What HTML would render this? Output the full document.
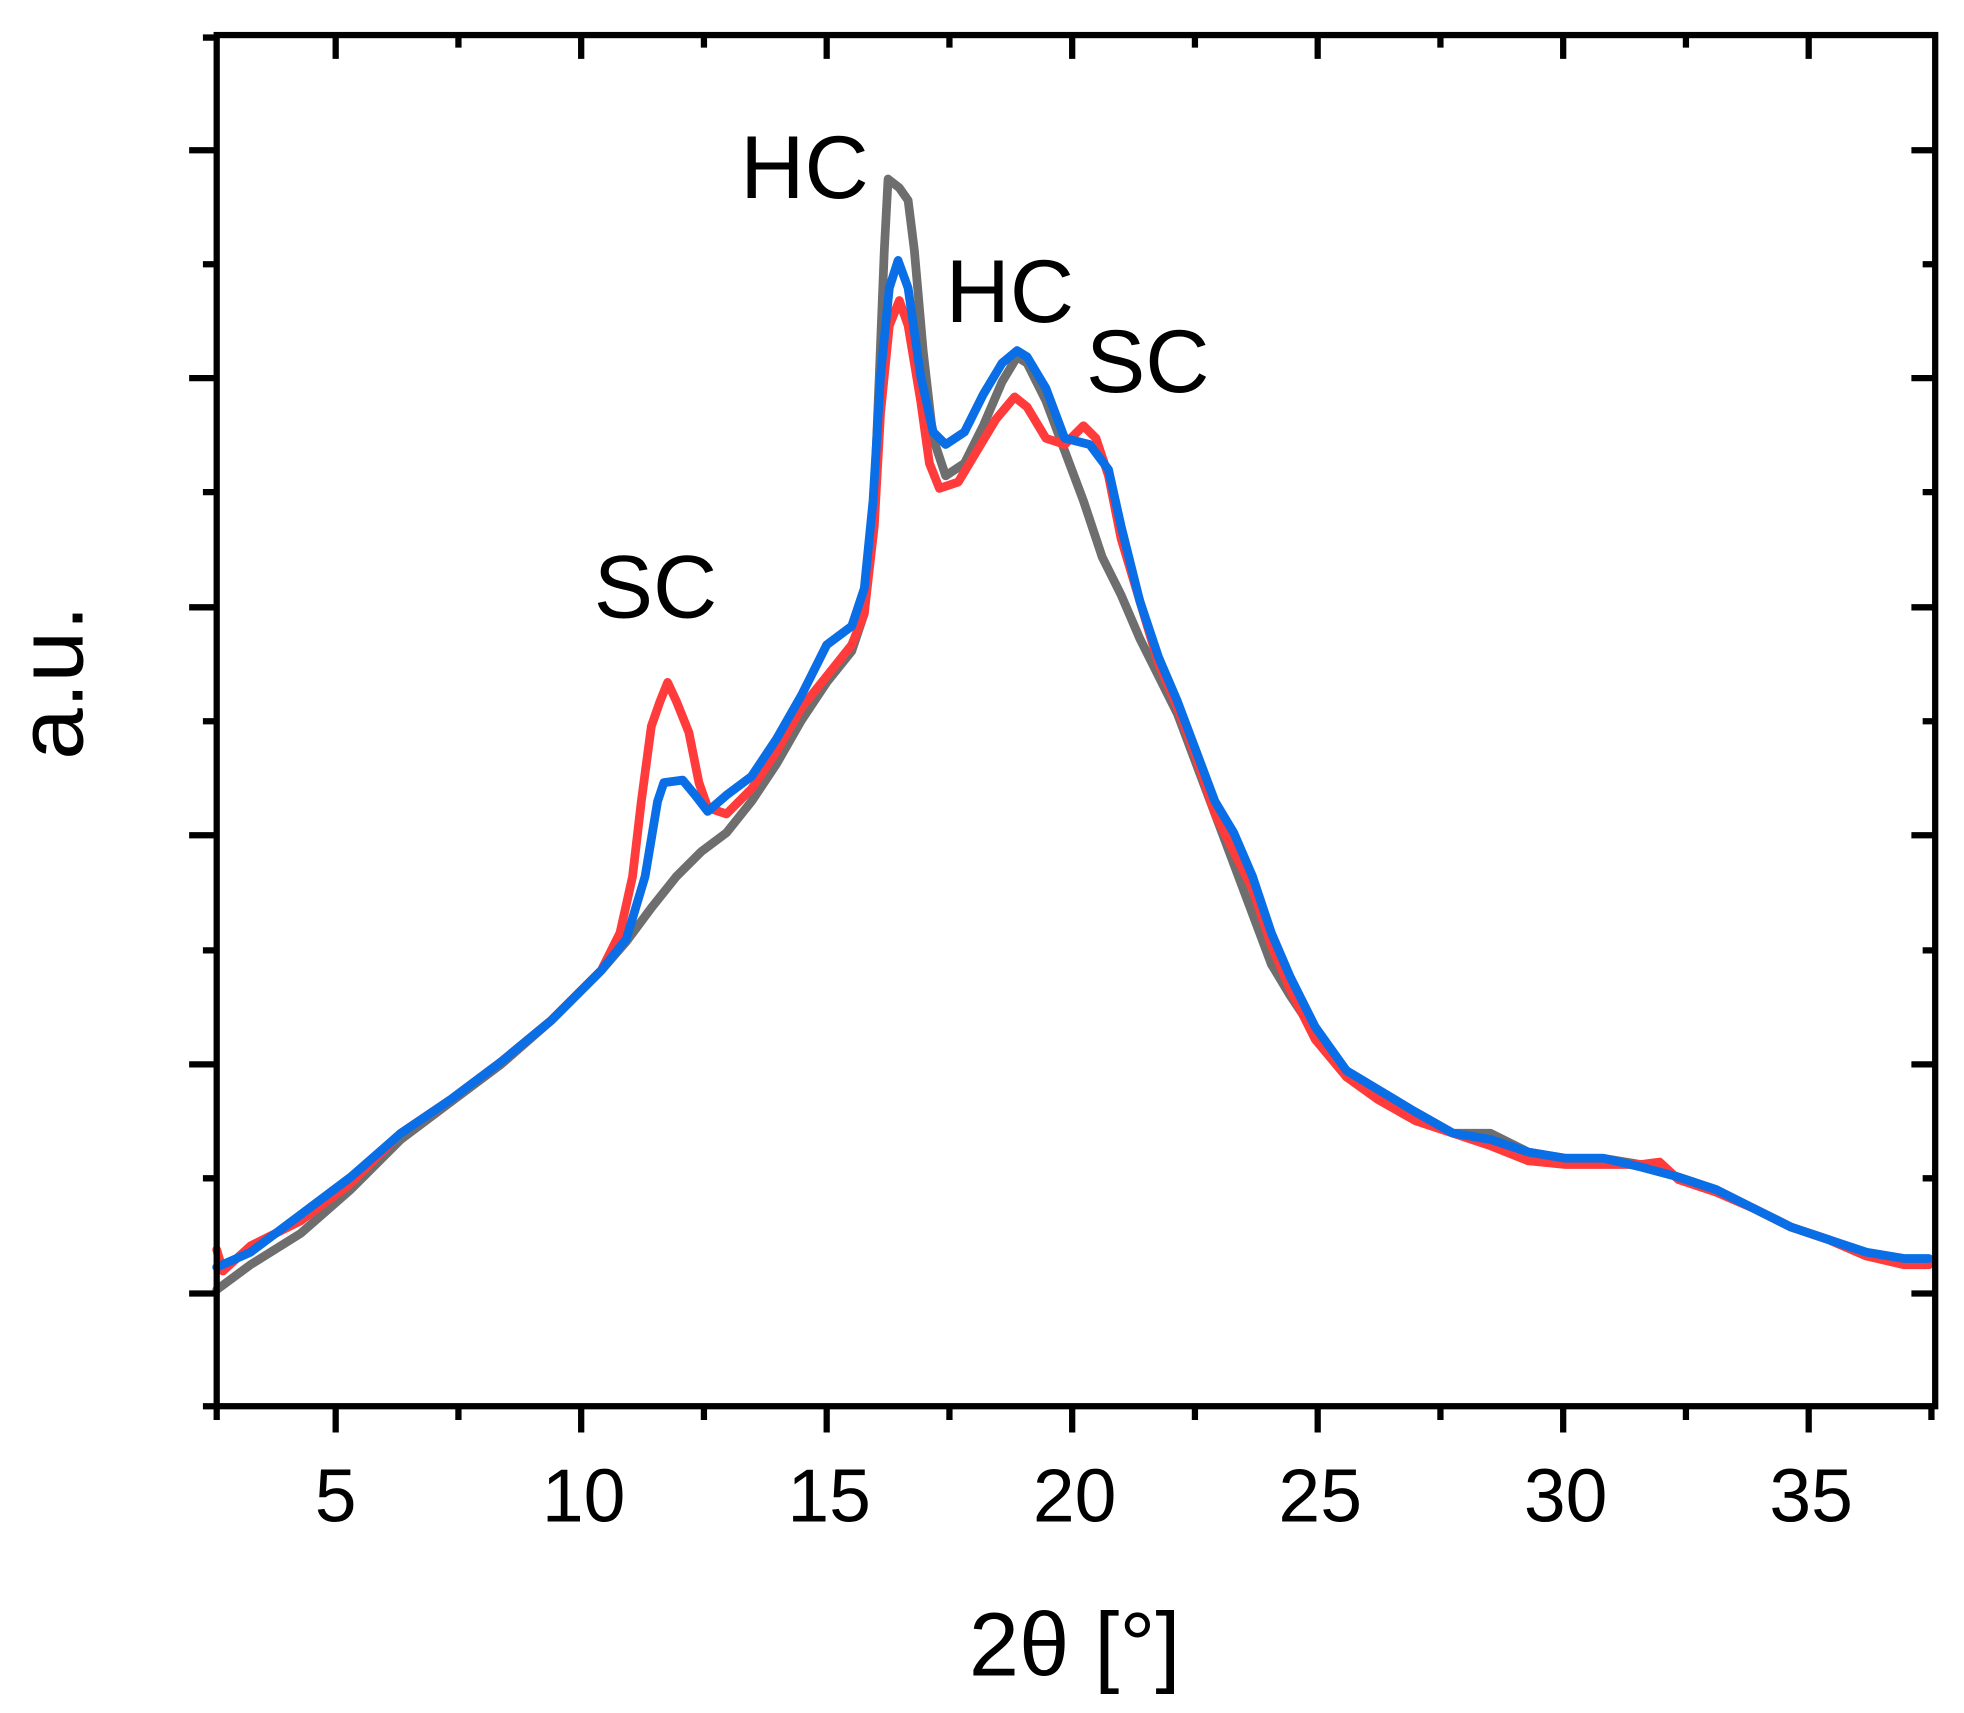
<!DOCTYPE html>
<html><head><meta charset="utf-8"><style>html,body{margin:0;padding:0;background:#fff}svg{display:block}</style></head>
<body>
<svg width="1964" height="1713" viewBox="0 0 1568 1368" preserveAspectRatio="none" xmlns="http://www.w3.org/2000/svg" font-family="Liberation Sans, Arial, sans-serif">
<rect width="1568" height="1368" fill="#fff"/>
<g fill="none" stroke-linejoin="round" stroke-linecap="round" stroke-width="7">
<polyline stroke="#6e6e6e" points="173,1030 200,1010 240,985 280,950 320,910 360,880 400,850 440,815 480,775 500,752 520,725 540,700 560,680 580,665 600,640 620,610 640,575 660,545 680,520 690,490 697,420 702,300 706,200 709,143 718,150 725,160 730,200 737,280 745,350 755,380 770,370 785,340 800,305 812,285 820,290 835,320 850,360 865,400 880,445 895,475 910,510 925,540 940,570 955,610 970,650 985,690 1000,730 1015,770 1030,795 1050,825 1075,860 1100,875 1130,888 1160,905 1190,905 1220,920 1250,925 1280,925 1310,930 1340,940 1370,950 1400,965 1430,980 1460,990 1490,1003 1520,1007 1540,1008"/>
<polyline stroke="#ff3b3b" points="173,998 178,1015 200,995 240,975 280,945 320,905 360,878 400,848 440,815 480,775 495,745 505,700 512,640 520,580 527,560 533,545 540,560 550,585 558,625 565,645 580,650 600,630 620,600 640,565 660,540 680,515 690,490 698,420 703,330 710,260 718,240 725,260 735,320 742,370 750,390 765,385 780,360 795,335 810,317 820,325 835,350 850,355 865,340 875,350 885,380 895,430 910,480 925,530 940,565 955,605 970,650 985,680 1000,710 1015,755 1030,790 1050,830 1075,860 1100,878 1130,895 1160,905 1190,915 1220,927 1250,930 1280,930 1310,930 1325,928 1340,942 1370,952 1400,965 1430,980 1460,990 1490,1003 1520,1010 1540,1010"/>
<polyline stroke="#0a6ee6" points="173,1012 200,1000 240,970 280,940 320,905 360,878 400,848 440,815 480,775 500,750 515,700 525,640 530,625 545,623 555,635 565,648 580,635 600,620 620,590 640,555 660,515 680,500 690,470 697,400 703,300 710,230 717,208 725,230 735,300 745,345 755,355 770,345 785,315 800,290 812,280 820,285 835,310 850,350 870,355 885,375 895,420 910,480 925,525 940,560 955,600 970,640 985,665 1000,700 1015,745 1030,780 1050,820 1075,855 1100,870 1130,888 1160,905 1190,910 1220,920 1250,925 1280,925 1310,932 1340,940 1370,950 1400,965 1430,980 1460,990 1490,1000 1520,1005 1540,1005"/>
</g>
<g stroke="#000" stroke-width="5" fill="none">
<rect x="173" y="28" width="1372" height="1095"/>
<path d="M151,120H173M151,302H173M151,485H173M151,667H173M151,850H173M151,1033H173
M162,211H173M162,393H173M162,576H173M162,759H173M162,941H173M162,30H173M162,1123H173
M1526,120H1545M1526,302H1545M1526,485H1545M1526,667H1545M1526,850H1545M1526,1033H1545
M1535,211H1545M1535,393H1545M1535,576H1545M1535,759H1545M1535,941H1545"/>
<path d="M268,1123V1144M464,1123V1144M660,1123V1144M856,1123V1144M1052,1123V1144M1248,1123V1144M1444,1123V1144
M173,1123V1134M366,1123V1134M562,1123V1134M758,1123V1134M954,1123V1134M1150,1123V1134M1346,1123V1134M1542,1123V1134
M268,28V47M464,28V47M660,28V47M856,28V47M1052,28V47M1248,28V47M1444,28V47
M366,28V38M562,28V38M758,28V38M954,28V38M1150,28V38M1346,28V38"/>
</g>
<g font-size="60" text-anchor="middle" fill="#000">
<text x="268" y="1215">5</text><text x="466" y="1215">10</text><text x="662" y="1215">15</text><text x="858" y="1215">20</text><text x="1054" y="1215">25</text><text x="1250" y="1215">30</text><text x="1446" y="1215">35</text>
</g>
<text x="858" y="1338" font-size="72" text-anchor="middle">2θ [°]</text>
<text transform="translate(66,545) rotate(-90)" font-size="74" text-anchor="middle">a.u.</text>
<g font-size="71" fill="#000">
<text x="591" y="158">HC</text>
<text x="755" y="257">HC</text>
<text x="867" y="313">SC</text>
<text x="474" y="493">SC</text>
</g>
</svg>
</body></html>
